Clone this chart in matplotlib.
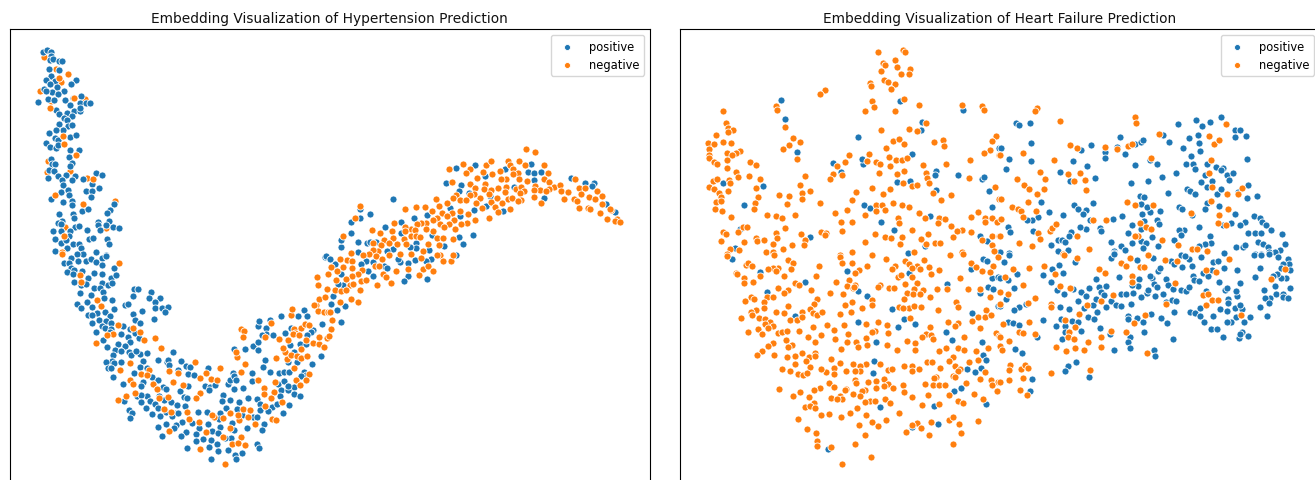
import numpy as np
import matplotlib
matplotlib.use("Agg")
import matplotlib.pyplot as plt

# Embedding coordinates (unit: 1/3 pixel), grouped by picture region.
titles = ["Embedding Visualization of Hypertension Prediction", "Embedding Visualization of Heart Failure Prediction"]
labels = ["positive", "negative"]
colors = ["#1f77b4", "#ff7f0e"]

hyp_pos_a = [(100,69),(112,63),(123,67),(125,80),(120,92),(130,90),(148,96),(157,96),(117,120),(149,123),(123,139),(108,151),(135,155),(198,152),(120,163),(185,165),(143,173),(102,178),(128,187),(164,185),(110,185),(145,194),(86,217),(115,210),(133,211),(167,212),(190,207),(213,201),(210,220),(230,221),(240,222),(181,227),(140,243),(148,255),(173,251),(193,244),(212,246),(212,235),(188,260),(162,265),(172,272),(148,284),(174,290),(186,288),(160,303),(140,303),(117,311),(182,323),(200,318),(136,326),(145,333),(109,341),(122,352),(138,356),(145,348),(182,363),(208,363),(177,384),(125,388),(126,403),(135,405),(186,400),(180,409),(118,422),(132,425),(144,440),(170,438),(197,441),(158,452),(188,453),(221,449),(260,432),(277,436),(114,446),(248,464),(160,468),(154,487),(176,482),(177,497),(228,485),(246,484),(267,477),(244,502),(125,509),(159,518),(186,515),(188,528),(217,545),(236,540),(313,525),(300,541),(292,550),(147,553),(189,555),(192,566),(158,574),(145,580),(155,583),(297,575),(265,579),(265,586),(289,586),(196,593),(208,589),(130,604),(155,606),(181,605),(232,601),(270,603),(311,594),(327,596),(178,620),(137,629),(155,640),(170,633),(238,630),(250,625),(293,629),(299,643),(190,643),(207,644),(172,657),(213,655),(136,664),(260,667),(221,674),(203,675),(290,678)]
hyp_neg_a = [(175,133),(148,145),(193,205),(122,236),(160,320),(163,344),(198,377),(249,448),(136,496),(221,524),(163,620),(157,669)]
hyp_neg_under = [(103,83),(155,157),(92,186),(227,208),(138,118),(115,395),(112,428),(180,425),(232,447),(316,516),(166,594),(290,596),(125,215)]
hyp_pos_b = [(163,26),(184,10),(205,20),(228,20),(243,13),(260,22),(277,12),(290,5),(178,26),(184,40),(194,48),(217,50),(254,56),(277,33),(313,42),(171,54),(189,60),(277,60),(304,70),(319,63),(235,71),(194,82),(213,92),(230,88),(278,85),(295,92),(307,85),(252,100),(272,102),(279,112),(210,115),(372,104),(386,105),(423,114),(369,125),(419,130),(450,130),(245,122),(282,130),(306,137),(232,143),(202,149),(214,162),(345,153),(355,150),(435,142),(435,161),(456,162),(476,158),(465,172),(248,158),(262,175),(285,172),(312,165),(236,182),(246,182),(300,185),(370,178),(396,170),(268,197),(288,199),(375,197),(433,195),(247,205),(303,205),(390,207),(276,215),(285,222),(340,215),(303,225),(258,232),(362,225),(300,232),(375,237),(355,247),(335,240),(388,250),(280,256),(362,263),(325,268),(347,275),(291,278),(316,288),(333,291),(359,293),(309,302),(390,298),(412,296),(491,292),(365,302),(378,290),(307,320),(446,317),(473,322),(476,318),(401,320),(514,320),(289,324),(314,326),(335,324),(296,340),(303,341),(392,339),(478,332),(505,346),(528,335),(542,337),(595,341),(412,340),(373,357),(311,368),(534,358),(554,363),(427,368),(444,376),(339,390),(396,390),(399,383),(395,395),(460,398),(468,404),(536,396),(512,410),(585,394),(600,398),(617,392),(598,408),(656,390),(670,355),(727,356),(662,378),(673,364),(680,378),(700,402),(673,405),(726,380),(640,422),(660,438),(687,442),(714,432),(741,434),(636,440),(524,428),(533,432),(382,426),(411,424),(394,423),(420,440),(394,443),(448,425),(462,437),(484,444),(502,452),(525,456),(436,450),(410,461),(446,461),(469,472),(427,478),(500,475),(451,486),(487,485),(506,475),(564,472),(591,473),(632,475),(650,460),(682,465),(751,449),(751,467),(787,457),(803,450),(774,470),(837,452),(820,477),(343,441),(358,466),(366,477),(362,491),(518,502),(547,505),(596,508),(628,495),(632,517),(666,505),(697,482),(731,487),(743,487),(764,508),(470,510),(498,511),(494,520),(444,519),(530,533),(513,545),(457,544),(569,522),(559,540),(579,553),(559,559),(606,531),(625,537),(664,525),(672,526),(712,522),(756,528),(605,557),(621,568),(597,577),(655,586),(624,590),(665,552),(531,581),(741,569),(748,582),(697,597),(676,603),(605,615),(678,615),(645,550),(744,215),(748,200),(768,222),(781,197),(814,185),(768,240),(756,242),(789,243),(731,275),(745,264),(744,286),(706,285),(672,284),(827,237),(843,220),(866,184),(884,167),(893,186),(911,227),(938,208),(935,305),(908,329),(767,318),(759,338),(781,352),(808,357),(823,352),(838,353),(883,352),(888,362),(874,365),(836,323),(862,322),(853,293),(840,272),(870,268),(890,270),(804,390),(822,381),(814,406),(853,397),(836,407),(852,418),(871,426),(835,395),(810,425),(905,232),(893,243),(945,8),(950,5)]
hyp_neg_b = [(157,-2),(327,27),(210,62),(213,83),(261,137),(275,155),(324,211),(370,222),(392,232),(311,240),(291,243),(260,266),(403,256),(436,252),(454,281),(361,326),(555,324),(330,346),(419,347),(394,360),(412,362),(505,357),(478,349),(589,356),(632,342),(572,371),(603,375),(622,377),(360,376),(371,390),(429,389),(489,382),(442,405),(474,427),(375,416),(349,424),(324,436),(447,432),(521,391),(570,417),(558,430),(463,465),(485,474),(533,472),(538,493),(569,503),(613,487),(640,490),(661,477),(607,481),(700,464),(722,467),(689,497),(686,483),(736,508),(716,488),(787,495),(800,496),(660,521),(590,532),(477,529),(641,548),(694,549),(666,570),(684,567),(706,571),(572,583),(646,628),(693,352),(746,376),(693,223),(704,230),(700,248),(682,308),(680,294),(705,328),(765,247),(785,205),(809,255),(800,311),(832,315),(825,293),(844,301),(863,305),(820,282),(835,258),(874,312),(893,304),(852,224),(855,235),(850,240),(845,183),(846,165),(873,220),(886,208),(899,211),(868,243),(889,256),(875,283),(910,267),(928,268),(944,277),(927,247),(952,250),(918,153),(914,151),(926,92),(921,67),(951,103),(926,170),(943,172),(955,172),(928,133),(945,127),(955,58),(853,342),(899,360),(889,376),(859,378),(870,393),(796,383),(794,414),(785,430),(764,402),(763,418),(767,454),(817,442)]
hyp_neg_c = [(590,59),(616,68),(358,120),(401,103),(470,107),(483,94),(534,94),(568,96),(587,108),(643,108),(541,108),(420,119),(410,130),(461,127),(488,135),(512,125),(551,118),(564,130),(549,135),(655,132),(442,145),(528,150),(513,150),(569,150),(592,154),(642,148),(659,157),(368,157),(421,165),(465,163),(463,178),(435,177),(485,182),(505,176),(529,172),(558,180),(573,172),(617,170),(632,182),(672,173),(690,168),(736,149),(749,175),(765,175),(802,185),(657,180),(650,185),(694,185),(714,189),(704,208),(778,203),(754,193),(734,210),(743,216),(796,209),(818,199),(817,223),(775,235),(781,238),(748,236),(811,251),(843,243),(840,240),(861,268),(832,270),(855,275),(870,278),(613,183),(584,186),(571,192),(526,188),(501,205),(478,195),(451,205),(433,193),(421,198),(380,198),(370,207),(392,212),(409,212),(353,221),(320,210),(329,229),(287,233),(258,233),(227,239),(306,246),(336,252),(368,250),(391,245),(414,253),(439,220),(456,237),(483,217),(497,234),(518,222),(534,210),(548,207),(575,213),(565,214),(613,203),(633,222),(542,238),(504,247),(478,265),(437,271),(412,280),(394,284),(375,300),(374,272),(358,285),(352,261),(323,267),(309,271),(331,284),(344,293),(311,304),(290,281),(289,300),(275,280),(263,284),(245,298),(255,301),(226,293),(226,306),(192,281),(188,306),(128,301),(152,312),(90,230),(76,266),(39,319),(164,331),(190,326),(177,342),(153,348),(130,340),(203,345),(222,328),(245,319),(229,343),(260,319),(272,323),(296,344),(322,325),(341,326),(369,330),(327,348),(145,365),(178,376),(212,373),(245,375),(129,361),(118,375),(140,381),(158,389),(100,377),(64,372),(52,391),(30,388),(3,414),(21,425),(40,412),(68,396),(66,416),(137,410),(147,410),(96,422),(84,433),(67,441),(50,450),(18,451),(93,454),(110,451),(159,435),(170,443),(199,424),(234,419),(280,364),(275,385),(280,419),(268,437),(296,410),(309,426),(331,376),(322,378),(339,394),(364,394),(371,376),(141,466),(185,461),(92,482),(62,466),(71,465),(17,482),(34,485),(64,510),(84,517),(31,519),(7,572),(3,600),(0,548),(-1,620),(50,482)]
hyp_pos_c = [(378,115),(435,108),(605,104),(596,128),(612,130),(635,129),(467,140),(526,120),(612,152),(553,172),(643,205),(350,162),(393,166),(417,190),(389,184),(482,199),(724,146),(765,160),(793,160),(787,170),(830,225),(855,248),(190,208),(121,254),(91,267),(63,279),(90,240),(253,266),(293,258),(213,277),(165,292),(63,311),(33,352),(85,339),(112,341),(122,337),(140,338),(213,310),(306,316),(389,322),(429,316),(401,344),(344,349),(260,340),(259,357),(240,352),(190,358),(172,364),(85,367),(102,377),(298,361),(303,390),(257,393),(236,400),(212,399),(206,388),(108,395),(95,405),(130,397),(164,409),(172,416),(115,425),(129,440),(235,440),(222,456),(291,450),(379,377),(288,395),(33,433),(17,405),(39,468),(24,465),(10,501),(47,530),(21,541),(35,578),(4,525),(35,331),(0,390),(362,235),(432,243),(390,260),(470,230),(520,246)]

hf_neg_a = [(595,69),(671,61),(675,68),(646,92),(610,102),(617,108),(653,113),(604,126),(690,120),(665,135),(689,134),(572,160),(575,171),(614,153),(625,157),(647,165),(634,180),(435,183),(421,195),(673,209),(577,216),(584,232),(555,246),(647,244),(717,226),(847,227),(907,230),(914,241),(288,229),(293,241),(130,246),(138,282),(146,295),(161,303),(144,309),(109,318),(129,337),(155,341),(86,340),(104,344),(89,359),(181,365),(143,370),(169,372),(158,378),(88,376),(87,385),(102,397),(113,405),(142,391),(212,399),(229,407),(142,416),(168,427),(174,442),(209,439),(240,448),(99,456),(113,450),(147,453),(152,462),(89,473),(103,480),(146,485),(228,476),(118,492),(124,502),(236,502),(110,519),(124,516),(226,521),(223,540),(106,538),(127,545),(154,563),(316,294),(341,327),(361,338),(329,348),(311,358),(351,389),(375,439),(360,467),(366,490),(392,485),(297,498),(328,501),(366,508),(321,523),(420,520),(345,556),(263,557),(288,559),(306,566),(315,597),(288,610),(363,615),(291,625),(229,625),(232,636),(252,633),(194,639),(124,634),(130,607),(139,614),(175,608),(190,592),(203,592),(376,632),(374,647),(337,648),(281,645),(309,658),(151,659),(177,662),(260,667),(281,668),(143,675),(424,607),(440,612),(435,617),(603,301),(689,298),(712,306),(738,280),(640,336),(659,328),(672,344),(619,356),(762,339),(790,332),(792,351),(949,320),(937,334),(931,361),(914,372),(959,378),(507,376),(497,399),(471,411),(461,433),(450,450),(488,437),(568,373),(563,394),(588,397),(602,403),(627,383),(649,391),(668,393),(682,386),(630,410),(597,432),(652,434),(673,426),(731,406),(798,405),(738,432),(741,446),(749,461),(868,447),(872,393),(670,462),(698,470),(711,466),(759,491),(815,496),(785,513),(946,474),(959,510),(576,477),(630,480),(611,493),(528,489),(516,512),(639,521),(667,527),(688,532),(588,527),(608,528),(588,546),(615,541),(503,543),(467,552),(555,557),(719,552),(737,566),(779,566),(797,570),(776,581),(875,562),(896,548),(916,567),(915,578),(937,566),(951,579),(815,590),(846,603),(832,606),(654,565),(659,580),(485,577),(516,578),(486,606),(585,614),(696,603),(744,614),(667,622),(617,623),(635,627),(724,628),(556,638),(661,644),(739,643),(765,641),(780,641),(820,622),(875,608),(937,619),(907,632),(938,647),(958,620),(942,664),(517,668),(704,667),(848,669),(576,676),(480,678)]
hf_pos_a = [(304,212),(316,269),(353,367),(130,461),(250,471),(193,527),(180,600),(165,655),(391,622),(534,324),(727,278),(723,302),(662,215),(851,241),(460,402),(549,405),(548,390),(484,428),(696,373),(770,425),(765,438),(835,438),(906,448),(914,444),(652,457),(691,454),(768,482),(929,486),(936,533),(552,526),(570,537),(603,578),(643,603),(750,560),(900,620),(923,636),(959,356),(685,671),(737,651),(958,668)]
hf_neg_b = [(143,4),(282,2),(480,7),(576,3),(488,27),(517,27),(619,14),(733,17),(675,19),(812,2),(851,-1),(955,7),(873,25),(687,29),(198,32),(205,25),(216,35),(296,40),(279,42),(265,44),(290,50),(325,18),(340,27),(333,45),(419,34),(563,36),(645,35),(637,44),(749,38),(711,36),(698,41),(779,46),(721,43),(890,37),(908,49),(940,36),(932,54),(539,48),(525,55),(168,55),(173,60),(241,65),(314,66),(410,65),(194,72),(194,85),(221,83),(470,84),(507,78),(655,68),(664,62),(698,67),(755,60),(840,72),(347,87),(357,92),(713,85),(675,90),(527,92),(503,95),(520,102),(522,98),(600,93),(596,97),(627,101),(644,100),(730,108),(704,103),(773,105),(802,103),(865,103),(902,103),(295,101),(326,106),(393,108),(314,116),(450,116),(489,120),(683,115),(700,118),(720,118),(751,128),(672,134),(930,129),(214,128),(224,133),(262,127),(281,129),(197,140),(254,142),(412,134),(403,150),(576,138),(578,152),(516,144),(495,153),(326,155),(254,160),(391,165),(228,167),(215,172),(218,182),(289,174),(368,172),(314,177),(401,177),(411,182),(427,173),(480,178),(513,173),(548,162),(659,158),(688,160),(670,160),(704,155),(723,158),(775,167),(829,144),(834,159),(920,167),(896,187),(915,187),(935,181),(183,191),(239,190),(257,195),(270,203),(257,208),(280,216),(266,222),(330,197),(351,196),(368,189),(690,192),(804,204),(877,200),(835,206),(826,214),(595,204),(558,208),(622,213),(494,211),(441,213),(399,218),(464,227),(206,232),(236,224),(246,240),(296,236),(307,233),(321,230),(359,231),(386,248),(423,241),(505,238),(585,230),(578,234),(625,236),(750,217),(900,222),(740,238),(728,249),(754,243),(760,254),(852,249),(949,237),(958,246),(465,253),(558,252),(318,257),(407,262),(502,262),(530,263),(622,272),(681,261),(705,266),(280,267),(265,276),(336,272),(326,277),(535,279),(562,273),(483,284),(652,287),(706,286),(777,291),(798,281),(835,282),(854,287),(888,291),(926,280),(246,289),(232,301),(282,302),(346,304),(323,309),(366,295),(388,309),(407,295),(406,306),(453,315),(821,308),(809,319),(896,318),(345,329),(379,320),(481,326),(519,328),(558,330),(602,330),(540,336),(698,334),(673,335),(742,324),(757,324),(869,324),(827,335),(392,338),(308,345),(330,349),(463,342),(438,353),(540,350),(499,349),(525,349),(625,348),(637,343),(698,351),(719,345),(780,340),(842,345),(834,349),(354,359),(371,363),(383,357),(423,345),(464,358),(915,354),(769,368),(762,372),(820,365),(826,367),(902,373),(527,377),(612,373),(934,378),(955,383),(447,385),(530,387),(566,384),(590,380),(625,390),(613,395),(464,397),(736,389),(761,393),(778,392),(797,391),(858,387),(936,392),(669,392),(298,404),(420,402),(404,407),(500,404),(555,406),(548,410),(590,402),(639,402),(674,413),(361,413),(340,425),(389,427),(495,408),(520,420),(540,425),(480,425),(455,430),(488,433),(471,435),(697,427),(745,423),(808,421),(884,418),(952,410),(615,434),(570,441),(556,444),(586,439),(631,446),(836,440),(849,445),(911,434),(402,445),(376,458),(392,456),(407,460),(533,462),(727,451),(779,449),(658,477),(447,480),(425,483),(483,488),(510,476),(558,481),(620,497),(576,502),(808,496),(820,489),(896,500),(356,495),(537,511),(596,516),(711,506),(698,512),(753,504),(839,509),(381,524),(725,521),(678,533),(843,537),(410,536),(557,541),(747,543),(412,560),(412,574),(525,570),(819,570),(455,579),(575,608),(488,628)]
hf_pos_b = [(156,14),(241,54),(375,84),(261,114),(345,186),(502,49),(687,57),(536,110),(562,125),(636,164),(658,157),(672,194),(706,209),(654,218),(534,203),(590,264),(583,321),(579,356),(600,458),(763,456),(823,411),(843,402),(798,232),(818,258),(863,344),(886,354),(903,340),(911,301),(920,318),(906,264),(878,177),(955,155),(802,90),(902,117),(924,97),(940,105),(937,71),(955,69),(875,44),(909,14),(923,20),(696,519),(775,509),(920,449),(445,583)]
hf_pos_c = [(48,280),(59,288),(92,282),(95,342),(4,356),(28,388),(95,396),(19,418),(125,517),(149,549),(189,558),(114,564),(97,571),(83,572),(24,594),(32,607),(99,604),(155,648),(175,633),(187,631),(195,637),(176,664),(206,663),(0,668),(27,672),(181,428),(219,394),(262,409),(212,455),(285,447),(243,362),(275,348),(315,368),(316,386),(361,324),(353,352),(376,373),(406,343),(423,337),(431,333),(405,406),(471,405),(451,393),(486,444),(444,456),(395,462),(506,491),(421,499),(432,504),(424,524),(452,549),(480,544),(427,553),(443,532),(433,575),(472,571),(479,584),(396,587),(367,559),(340,568),(302,595),(303,605),(272,573),(258,599),(240,593),(214,609),(207,619),(224,528),(235,540),(258,542),(279,522),(249,554),(384,611),(425,600),(456,623),(397,641),(425,636),(438,642),(430,656),(475,650),(335,638),(363,651),(377,661),(344,664),(343,672),(534,285),(588,273),(607,290),(630,279),(663,262),(596,316),(568,327),(597,341),(549,355),(601,365),(573,380),(560,405),(581,403),(585,420),(530,431),(508,337),(491,317),(707,301),(720,302),(707,324),(738,319),(742,389),(622,403),(649,414),(671,417),(665,423),(682,438),(701,430),(687,451),(617,437),(605,459),(637,455),(622,473),(562,479),(570,485),(587,494),(651,494),(665,480),(715,489),(742,505),(745,468),(773,500),(538,533),(548,538),(577,558),(621,522),(617,540),(659,531),(705,555),(763,560),(780,566),(788,577),(799,587),(813,603),(737,577),(722,587),(695,582),(670,586),(598,592),(553,601),(537,602),(545,617),(632,620),(522,631),(633,641),(617,645),(597,649),(744,611),(765,610),(785,611),(775,639),(791,643),(805,652),(847,614),(855,645),(840,661),(825,669),(808,668),(785,675),(765,674),(708,652),(729,654),(735,648),(672,672),(582,660)]
hf_neg_c = [(113,237),(105,246),(182,275),(71,370),(2,378),(52,450),(120,427),(135,450),(73,468),(87,478),(132,480),(113,494),(84,518),(3,510),(38,533),(56,539),(64,544),(108,545),(70,563),(4,569),(150,604),(157,595),(169,584),(116,610),(121,628),(2,620),(57,641),(98,650),(163,392),(211,347),(232,356),(204,435),(240,432),(222,455),(255,451),(258,482),(315,352),(352,358),(386,350),(397,343),(407,263),(408,280),(478,315),(453,386),(383,517),(405,527),(461,526),(280,573),(320,573),(231,619),(269,659),(420,581),(438,592),(454,598),(415,621),(405,620),(488,633),(534,647),(578,659),(593,658),(623,665),(678,284),(628,321),(643,345),(657,333),(633,392),(627,431),(636,473),(635,514),(681,495),(728,476),(714,494),(659,558),(686,540),(656,582),(678,587),(574,552),(191,674),(444,677)]
hf_pos_d = [(12,24),(27,2),(51,58),(0,70),(24,78),(44,102),(18,134),(0,156),(59,157),(43,166),(80,150),(131,196),(24,203),(40,206),(58,211),(111,248),(45,284),(67,297),(130,62),(155,83),(157,45),(177,33),(190,57),(225,24),(173,106),(194,119),(219,104),(243,113),(268,102),(260,125),(234,140),(182,158),(207,164),(184,194),(168,216),(217,201),(235,204),(195,214),(197,232),(245,229),(187,253),(253,162),(280,152),(293,173),(266,187),(282,194),(300,221),(330,239),(342,288),(290,75),(299,98),(319,96),(305,113),(314,122),(288,134),(333,139),(319,159),(350,153),(363,154),(394,150),(365,119),(380,118),(401,116),(423,128),(441,117),(446,107),(467,126),(489,119),(498,142),(518,136),(530,140),(333,10),(342,0),(412,16),(461,11),(513,21),(524,28),(547,37),(567,14),(578,35),(605,7),(639,23),(656,19),(673,40),(713,46),(610,56),(636,46),(626,66),(581,64),(583,77),(597,81),(657,83),(720,87),(458,72),(450,64),(475,50),(482,42),(498,75),(464,88),(472,97),(506,93),(519,104),(545,106),(559,111),(567,98),(418,74),(414,96),(398,92),(358,67),(385,185),(386,194),(413,192),(431,204),(453,178),(485,192),(502,207),(433,233),(391,248),(386,264),(392,281),(464,287),(467,305),(519,254),(522,172),(572,174),(586,175),(602,161),(602,185),(612,202),(641,186),(633,223),(653,225),(670,248),(661,165),(682,170),(707,160),(727,165),(722,152),(709,189),(695,202),(682,204),(734,202),(750,187),(727,232),(718,252),(721,240),(745,244),(686,135),(686,145),(712,125),(708,111),(676,108),(682,100),(618,110),(765,68),(780,42),(764,2),(783,3),(835,8),(809,-1),(866,14),(869,30),(850,30),(843,41),(870,47),(860,70),(843,72),(831,60),(820,66),(827,94),(794,108),(830,120),(851,118),(851,127),(864,132),(811,130),(796,130),(809,146),(782,158),(803,184),(870,101),(228,322),(204,336),(197,350),(269,367),(97,374),(91,411),(545,3),(555,5)]
hf_neg_d = [(192,2),(232,10),(39,43),(87,40),(15,69),(132,36),(166,60),(70,93),(0,113),(24,118),(107,131),(86,145),(0,148),(180,96),(210,102),(154,148),(154,158),(261,153),(237,179),(196,197),(227,217),(207,232),(206,247),(222,254),(266,263),(88,204),(11,208),(57,234),(71,235),(107,238),(2,247),(28,261),(2,275),(6,286),(169,279),(199,291),(225,282),(252,286),(304,278),(303,247),(335,230),(297,45),(315,55),(339,121),(304,140),(365,25),(378,34),(391,10),(444,3),(421,39),(433,37),(396,65),(398,83),(526,85),(497,18),(532,20),(436,181),(403,207),(379,233),(441,297),(618,47),(650,53),(687,14),(609,122),(626,120),(638,137),(656,137),(619,153),(723,181),(814,75),(855,45),(31,333),(27,346),(63,345),(77,331),(84,340),(69,371),(29,378),(0,383),(60,407),(81,423),(153,357),(270,348),(500,150)]

def at(points, dx, dy):
    a = np.array(points, dtype=float)
    return a + (dx, dy)

panels = [
    ([at(hyp_neg_under, 0, 0)],
     [at(hyp_pos_a, 0, 0), at(hyp_pos_b, 0, 675), at(hyp_pos_c, 960, 300)],
     [at(hyp_neg_a, 0, 0), at(hyp_neg_b, 0, 675), at(hyp_neg_c, 960, 300)]),
    ([],
     [at(hf_pos_a, 0, 0), at(hf_pos_b, 0, 675), at(hf_pos_c, 960, 0), at(hf_pos_d, 960, 675)],
     [at(hf_neg_a, 0, 0), at(hf_neg_b, 0, 675), at(hf_neg_c, 960, 0), at(hf_neg_d, 960, 675)]),
]

W, H = 1315, 481
S, EW = 26, 0.6
fig = plt.figure(figsize=(W / 100, H / 100), dpi=100)
lefts = [9.8, 679.8]
top, width, height = 30.3, 640, 456
for left, title, (under, pos, neg) in zip(lefts, titles, panels):
    ax = fig.add_axes([left / W, 1 - (top + height) / H, width / W, height / H])
    for g in under:
        ax.scatter(g[:, 0], g[:, 1], s=S, c=colors[1], edgecolors="white", linewidths=EW)
    for groups, label, color in zip((pos, neg), labels, colors):
        pts = np.vstack(groups)
        ax.scatter(pts[:, 0], pts[:, 1], s=S, c=color, edgecolors="white", linewidths=EW, label=label)
    ax.set_xlim(0, 1920)
    ax.set_ylim(1368, 0)
    ax.set_xticks([])
    ax.set_yticks([])
    for s in ax.spines.values():
        s.set_linewidth(0.8)
    ax.set_title(title, fontsize=9.9, pad=5.5, color="#111111")
    ax.legend(loc="upper right", fontsize=8.3, borderpad=0.42, labelspacing=0.42, handlelength=2.0,
              handletextpad=0.85, borderaxespad=0.5, markerscale=0.85)
fig.savefig("out.png", dpi=100)
